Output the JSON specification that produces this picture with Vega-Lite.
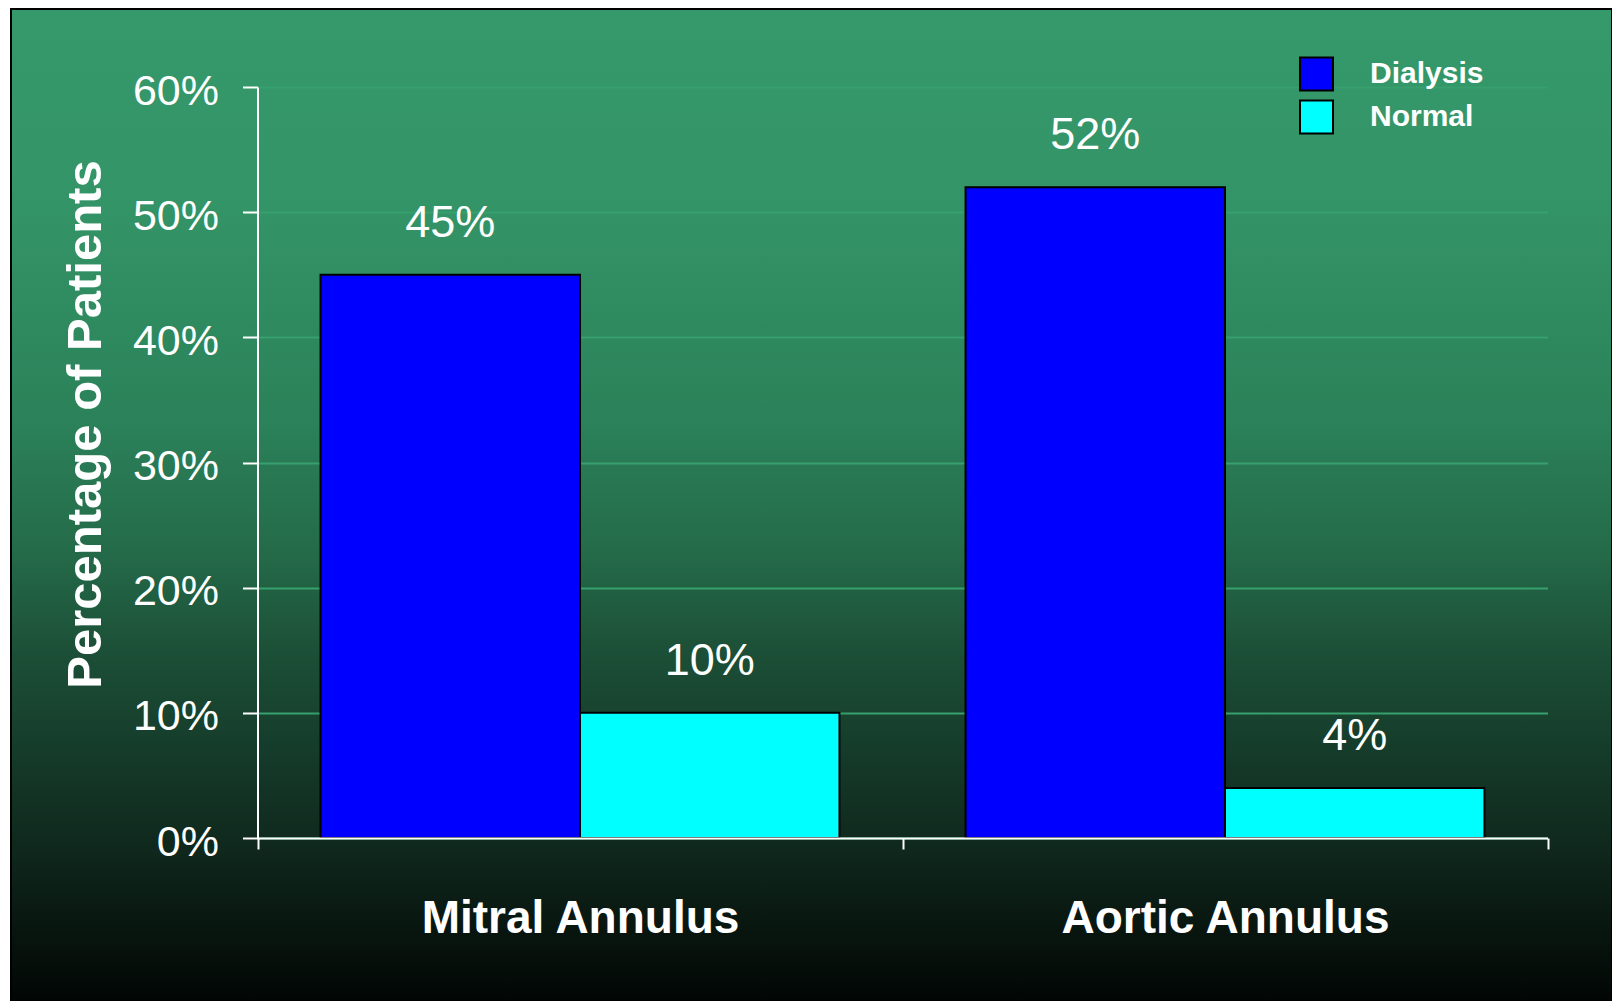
{
  "$schema": "https://vega.github.io/schema/vega-lite/v6.json",
  "width": 1601,
  "height": 992,
  "autosize": {"type": "none"},
  "padding": {"left": 11, "top": 9, "right": 0, "bottom": 0},
  "background": "white",
  "view": {
    "fill": {
      "gradient": "linear", "x1": 0, "y1": 0, "x2": 0, "y2": 1,
      "stops": [
        {"offset": 0, "color": "#35996b"},
        {"offset": 0.2, "color": "#339467"},
        {"offset": 0.42, "color": "#2b8159"},
        {"offset": 0.55, "color": "#246a49"},
        {"offset": 0.65, "color": "#1c4f37"},
        {"offset": 0.75, "color": "#153b2a"},
        {"offset": 0.85, "color": "#0f271c"},
        {"offset": 1, "color": "#020604"}
      ]
    },
    "stroke": "black",
    "strokeWidth": 2
  },
  "data": {
    "values": [
      {"site": "Mitral Annulus", "group": "Dialysis", "pct": 0.45},
      {"site": "Mitral Annulus", "group": "Normal", "pct": 0.10},
      {"site": "Aortic Annulus", "group": "Dialysis", "pct": 0.52},
      {"site": "Aortic Annulus", "group": "Normal", "pct": 0.04}
    ]
  },
  "encoding": {
    "x": {
      "field": "site",
      "type": "nominal",
      "sort": ["Mitral Annulus", "Aortic Annulus"],
      "scale": {"range": [246.5, 1536.5], "paddingInner": 0, "paddingOuter": 0},
      "axis": {
        "orient": "bottom",
        "offset": -163,
        "title": null,
        "domainColor": "white",
        "domainWidth": 2,
        "tickColor": "white",
        "tickWidth": 2,
        "tickSize": 11,
        "tickBand": "extent",
        "labelColor": "white",
        "labelFont": "Liberation Sans",
        "labelFontWeight": "bold",
        "labelFontSize": 46,
        "labelBaseline": "alphabetic",
        "labelPadding": 83,
        "labelLimit": 0,
        "labelAngle": 0,
        "grid": false,
        "zindex": 1
      }
    },
    "xOffset": {
      "field": "group",
      "type": "nominal",
      "sort": ["Dialysis", "Normal"],
      "scale": {"paddingInner": 0, "paddingOuter": 0.243}
    },
    "y": {
      "field": "pct",
      "type": "quantitative",
      "scale": {"domain": [0, 0.6], "range": [829, 78], "nice": false, "zero": true},
      "axis": {
        "orient": "left",
        "offset": -246.5,
        "values": [0, 0.1, 0.2, 0.3, 0.4, 0.5, 0.6],
        "format": ".0%",
        "domainColor": "white",
        "domainWidth": 2,
        "tickColor": "white",
        "tickWidth": 2,
        "tickSize": 15,
        "labelColor": "white",
        "labelFont": "Liberation Sans",
        "labelFontSize": 43,
        "labelPadding": 24,
        "labelOffset": 4,
        "grid": true,
        "gridColor": "#37a06e",
        "gridWidth": 2,
        "title": "Percentage of Patients",
        "titleColor": "white",
        "titleFont": "Liberation Sans",
        "titleFontSize": 49,
        "titleFontWeight": "bold",
        "titleX": -157.5,
        "titleY": 415,
        "titleBaseline": "alphabetic",
        "zindex": 0
      }
    }
  },
  "layer": [
    {
      "mark": {"type": "bar", "stroke": "black", "strokeWidth": 2},
      "encoding": {
        "color": {
          "field": "group",
          "type": "nominal",
          "scale": {"domain": ["Dialysis", "Normal"], "range": ["#0000ff", "#00ffff"]},
          "legend": {
            "orient": "none",
            "legendX": 1288,
            "legendY": 47.5,
            "title": null,
            "padding": 0,
            "symbolType": "square",
            "symbolSize": 1089,
            "symbolStrokeColor": "black",
            "symbolStrokeWidth": 2,
            "symbolOpacity": 1,
            "labelColor": "white",
            "labelFont": "Liberation Sans",
            "labelFontWeight": "bold",
            "labelFontSize": 30,
            "labelOffset": 36,
            "rowPadding": 2
          }
        }
      }
    },
    {
      "mark": {
        "type": "text",
        "dy": -52,
        "baseline": "middle",
        "color": "white",
        "font": "Liberation Sans",
        "fontSize": 45
      },
      "encoding": {
        "text": {"field": "pct", "type": "quantitative", "format": ".0%"}
      }
    }
  ]
}
